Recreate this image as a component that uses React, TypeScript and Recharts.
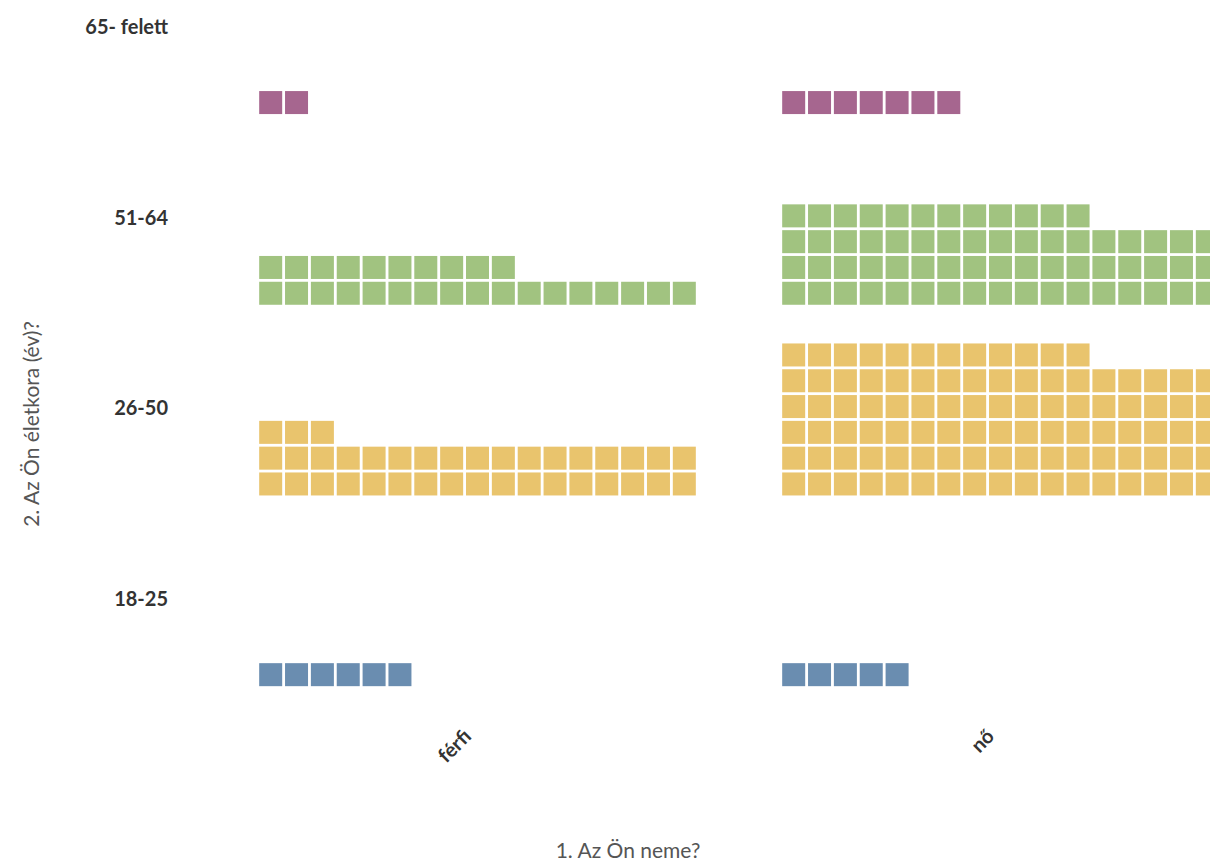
import React from 'react';
import { ScatterChart, Scatter, XAxis, YAxis, Label } from 'recharts';

// categories
const genders = ['férfi', 'nő'];
const ageGroups = ['18-25', '26-50', '51-64', '65- felett'];

// number of respondents per age group (same order as ageGroups)
const ferfiCounts = [6, 37, 27, 2];
const noCounts = [5, 97, 63, 7];

const ageColors = ['#6a8db0', '#e9c46d', '#a1c380', '#a6668f'];

// waffle layout (in axis units)
const PER_ROW = 17;
const COL_STEP = 0.04943;
const ROW_STEP = 0.1353;
const ROW_BASE = -0.4011;
const SQ = 23;

const font = 'Lato, "Noto Sans", sans-serif';

type Square = { x: number; y: number; gender: string; age: string };

function buildSquares(ageIndex: number): Square[] {
  const out: Square[] = [];
  [ferfiCounts, noCounts].forEach((counts, g) => {
    for (let i = 0; i < counts[ageIndex]; i++) {
      const col = i % PER_ROW;
      const row = Math.floor(i / PER_ROW);
      out.push({
        x: g + (col - (PER_ROW - 1) / 2) * COL_STEP,
        y: ageIndex + ROW_BASE + row * ROW_STEP,
        gender: genders[g],
        age: ageGroups[ageIndex],
      });
    }
  });
  return out;
}

function square(color: string) {
  return (props: any) => (
    <rect
      x={props.cx - SQ / 2}
      y={props.cy - SQ / 2}
      width={SQ}
      height={SQ}
      fill={color}
    />
  );
}

function AgeTick({ x, y, payload }: any) {
  return (
    <text
      x={x}
      y={y}
      textAnchor="end"
      dominantBaseline="central"
      fontFamily={font}
      fontWeight={700}
      fontSize={20}
      fill="#333"
    >
      {ageGroups[payload.value]}
    </text>
  );
}

function GenderTick({ x, y, payload }: any) {
  return (
    <g transform={`translate(${x - 5},${y + 25})`}>
      <text
        textAnchor="end"
        transform="rotate(-45)"
        fontFamily={font}
        fontWeight={700}
        fontSize={20}
        fill="#333"
      >
        {genders[payload.value]}
      </text>
    </g>
  );
}

export default function App() {
  return (
    <div
      style={{
        position: 'fixed',
        left: 0,
        top: 0,
        width: 1210,
        height: 862,
        overflow: 'hidden',
        background: '#fff',
      }}
    >
      <ScatterChart
        width={1262}
        height={862}
        margin={{ top: 7, right: 0, bottom: 0, left: 0 }}
      >
        <XAxis
          type="number"
          dataKey="x"
          domain={[-0.5, 1.5]}
          ticks={[0, 1]}
          height={149.4}
          axisLine={false}
          tickLine={false}
          tickSize={0}
          tickMargin={0}
          tick={<GenderTick />}
        >
          <Label
            content={() => (
              <text
                x={628}
                y={849}
                textAnchor="middle"
                dominantBaseline="central"
                fontFamily={font}
                fontSize={21}
                fill="#555"
              >
                1. Az Ön neme?
              </text>
            )}
          />
        </XAxis>
        <YAxis
          type="number"
          dataKey="y"
          domain={[-0.6, 3.1]}
          ticks={[0, 1, 2, 3]}
          width={216}
          axisLine={false}
          tickLine={false}
          tickSize={0}
          tickMargin={48}
          tick={<AgeTick />}
        >
          <Label
            content={() => (
              <text
                x={30}
                y={424}
                textAnchor="middle"
                dominantBaseline="central"
                transform="rotate(-90, 30, 424)"
                fontFamily={font}
                fontSize={21}
                fill="#555"
              >
                2. Az Ön életkora (év)?
              </text>
            )}
          />
        </YAxis>
        {ageGroups.map((age, k) => (
          <Scatter
            key={age}
            name={age}
            data={buildSquares(k)}
            fill={ageColors[k]}
            shape={square(ageColors[k])}
            isAnimationActive={false}
          />
        ))}
      </ScatterChart>
    </div>
  );
}
